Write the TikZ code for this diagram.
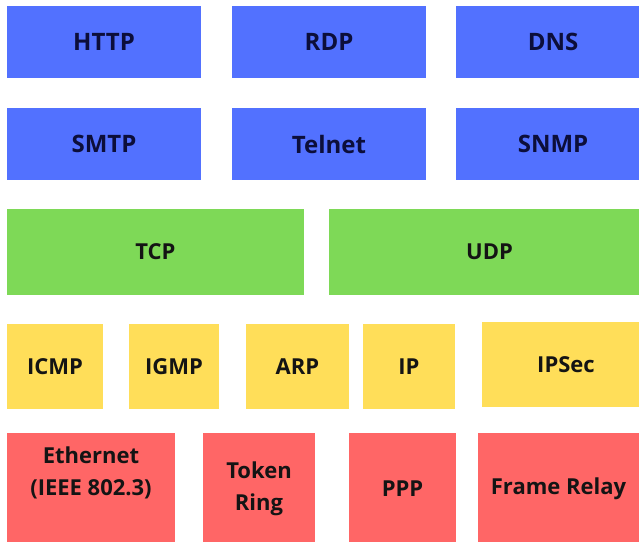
\documentclass[tikz,border=0pt]{standalone}
\usepackage{fontspec}
\setmainfont{Open Sans}
\definecolor{appblue}{RGB}{82,113,255}
\definecolor{appnavy}{RGB}{12,14,58}
\definecolor{transgreen}{RGB}{126,217,87}
\definecolor{netyellow}{RGB}{255,222,89}
\definecolor{linkred}{RGB}{255,102,102}
\definecolor{inkblack}{RGB}{20,20,20}
\usepackage{tikz}
\usetikzlibrary{positioning}

\tikzset{
  layerbox/.style={rectangle, inner sep=0pt, align=center},
  appbox/.style={layerbox, fill=appblue, text=appnavy, minimum width=194pt, minimum height=72pt,
    font=\fontsize{24}{28}\selectfont\bfseries},
  tranbox/.style={layerbox, fill=transgreen, text=inkblack, minimum height=86pt,
    font=\fontsize{22}{30}\selectfont\bfseries},
  netbox/.style={layerbox, fill=netyellow, text=inkblack, minimum height=85pt,
    font=\fontsize{22}{30}\selectfont\bfseries},
  linkbox/.style={layerbox, fill=linkred, text=inkblack, minimum height=112pt,
    font=\fontsize{22}{32}\selectfont\bfseries},
  linklbl/.style={align=center, inner sep=0pt, text=inkblack,
    font=\fontsize{22}{32}\selectfont\bfseries}
}

\begin{document}
\begin{tikzpicture}[x=1pt, y=-1pt]
  \useasboundingbox (0,0) rectangle (639,541);
  \fill[white] (0,0) rectangle (639,541);
  \clip (0,0) rectangle (639,541);
  % application layer
  \node[appbox] (http) at (104,42) {HTTP};
  \node[appbox] (rdp) at (329,42) {RDP};
  \node[appbox] (dns) at (553,42) {DNS};
  \node[appbox] (smtp) at (104,144) {SMTP};
  \node[appbox] (telnet) at (329,144) {Telnet};
  \node[appbox] (snmp) at (553,144) {SNMP};
  % transport layer
  \node[tranbox, minimum width=297pt] (tcp) at (155.5,252) {TCP};
  \node[tranbox, minimum width=321pt] (udp) at (489.5,252) {UDP};
  % network layer
  \node[netbox, minimum width=96pt] (icmp) at (55,366.5) {ICMP};
  \node[netbox, minimum width=90pt] (igmp) at (174,366.5) {IGMP};
  \node[netbox, minimum width=103pt] (arp) at (297.5,366.5) {ARP};
  \node[netbox, minimum width=92pt] (ip) at (409,366.5) {IP};
  \node[netbox, minimum width=168pt] (ipsec) at (566,364.5) {IPSec};
  % link layer
  \node[linkbox, minimum width=168pt] (eth) at (91,489) {};
  \node[linklbl] (ethlbl) at ([yshift=16pt]eth.center) {Ethernet\\(IEEE 802.3)};
  \node[linkbox, minimum width=112pt] (token) at (259,489) {Token\\Ring};
  \node[linkbox, minimum width=107pt] (ppp) at (402.5,489) {PPP};
  \node[linkbox, minimum width=161pt] (frame) at (558.5,489) {Frame Relay};
\end{tikzpicture}
\end{document}
